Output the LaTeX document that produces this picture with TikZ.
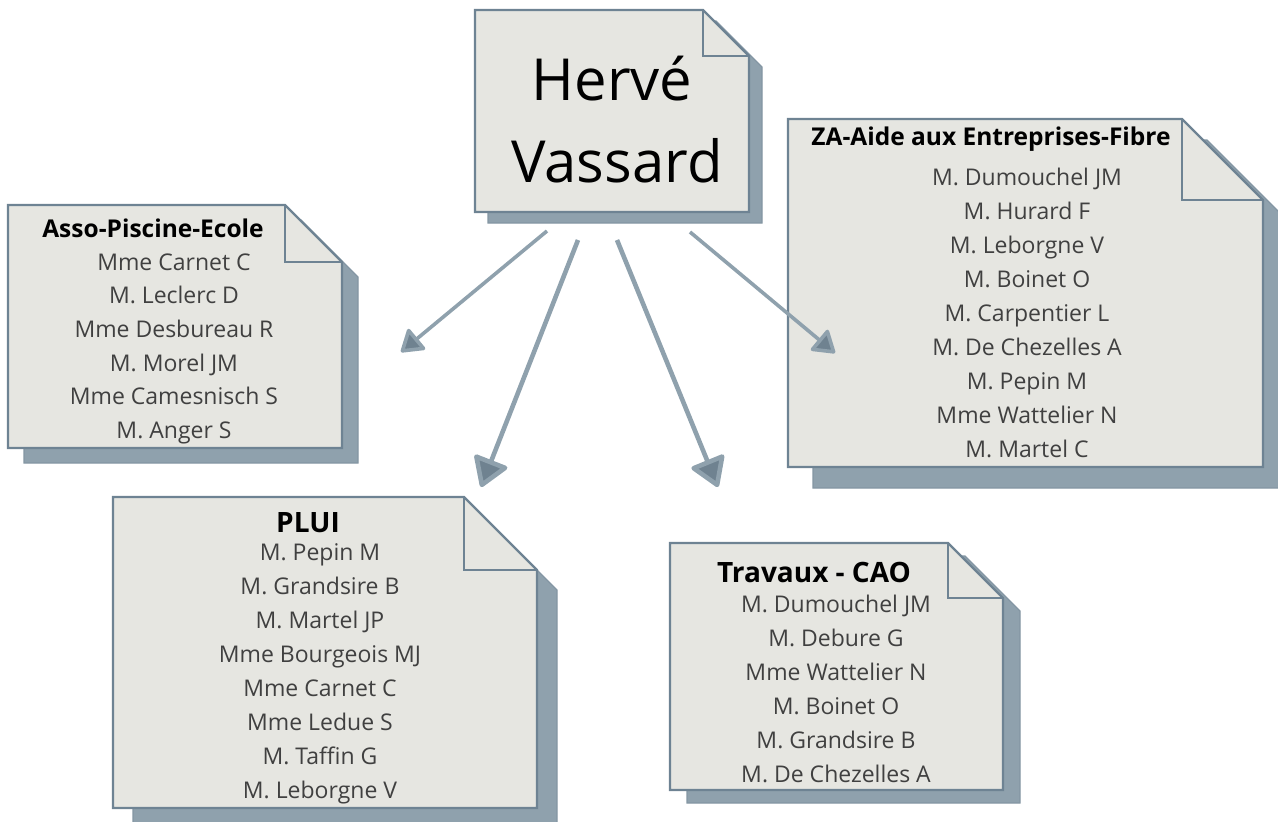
\documentclass[tikz,border=0pt]{standalone}
\usepackage{fontspec}
\setmainfont{Open Sans}
\usetikzlibrary{arrows.meta,calc}
\definecolor{notefill}{HTML}{E6E6E1}
\definecolor{borderc}{HTML}{6E8393}
\definecolor{shadowc}{HTML}{8FA1AD}
\definecolor{arrowc}{HTML}{8FA1AD}
\definecolor{tipc}{HTML}{6F8290}
\definecolor{bodyc}{HTML}{404040}
% name x1 y1 x2 y2 fold dx dy
\newcommand\notebox[8]{%
  \filldraw[fill=shadowc, draw=borderc!85, line width=1.2]
    (#2+#7,#3+#8) -- (#4-#6+#7,#3+#8) -- (#4+#7,#3+#6+#8) -- (#4+#7,#5+#8) -- (#2+#7,#5+#8) -- cycle;
  \filldraw[fill=notefill, draw=borderc, line width=2.4, line join=miter]
    (#2,#3) -- (#4-#6,#3) -- (#4,#3+#6) -- (#4,#5) -- (#2,#5) -- cycle;
  \draw[borderc, line width=2.4] (#4-#6,#3) -- (#4-#6,#3+#6) -- (#4,#3+#6);
  \coordinate (#1) at ({(#2+#4)/2},{(#3+#5)/2});
}
\tikzset{
  title/.style={anchor=base, inner sep=0, font=\fontsize{24.5}{30}\selectfont\bfseries, text=black},
  bigtitle/.style={anchor=base, inner sep=0, font=\fontsize{28}{34}\selectfont\bfseries, text=black},
  body/.style={anchor=base, inner sep=0, font=\fontsize{23}{28}\selectfont, text=bodyc},
  big/.style={anchor=base, inner sep=0, font=\fontsize{58}{70}\selectfont, text=black},
  thinarrow/.style={draw=arrowc, line width=3.6, -{Triangle[length=23pt,width=29pt,round,fill=tipc]}},
  thickarrow/.style={draw=arrowc, line width=4.6, -{Triangle[length=31pt,width=38pt,round,fill=tipc]}},
}
\begin{document}
\begin{tikzpicture}[x=1pt,y=-1pt]
\useasboundingbox (0,0) rectangle (1278,822);
\begin{scope}
\clip (0,0) rectangle (1278,822);
% central note
\notebox{hv}{475}{10}{749}{212}{46}{13}{11}
\node[big] (herve) at (612,100) {Hervé};
\node[big] (vassard) at (617,182) {Vassard};

% Asso
\notebox{asso}{8}{205}{342}{448}{57}{16}{15}
\node[title] (assoT) at (153,237) {Asso-Piscine-Ecole};
\foreach \t [count=\i] in {Mme Carnet C, M. Leclerc D, Mme Desbureau R, M. Morel JM, Mme Camesnisch S, M. Anger S}
  \node[body] (asso\i) at (174,{270+33.7*(\i-1)}) {\t};

% ZA
\notebox{za}{788}{119}{1263}{467}{81}{25}{21}
\node[title] (zaT) at (991,145) {ZA-Aide aux Entreprises-Fibre};
\foreach \t [count=\i] in {M. Dumouchel JM, M. Hurard F, M. Leborgne V, M. Boinet O, M. Carpentier L, M. De Chezelles A, M. Pepin M, Mme Wattelier N, M. Martel C}
  \node[body] (za\i) at (1027,{185+34.1*(\i-1)}) {\t};

% PLUI
\notebox{plui}{113}{497}{537}{808}{73}{20}{20}
\node[bigtitle] (pluiT) at (308,532) {PLUI};
\foreach \t [count=\i] in {M. Pepin M, M. Grandsire B, M. Martel JP, Mme Bourgeois MJ, Mme Carnet C, Mme Ledue S, M. Taffin G, M. Leborgne V}
  \node[body] (plui\i) at (320,{560+34*(\i-1)}) {\t};

% Travaux
\notebox{trav}{670}{543}{1003}{790}{55}{17}{13}
\node[bigtitle] (travT) at (814,582) {Travaux - CAO};
\foreach \t [count=\i] in {M. Dumouchel JM, M. Debure G, Mme Wattelier N, M. Boinet O, M. Grandsire B, M. De Chezelles A}
  \node[body] (trav\i) at (836,{612+34*(\i-1)}) {\t};
\end{scope}

% arrows
\coordinate (s1) at (547,231);
\coordinate (e1) at (401,352);
\coordinate (s2) at (578,240);
\coordinate (e2) at (481,487);
\coordinate (s3) at (617,240);
\coordinate (e3) at (718,487);
\coordinate (s4) at (690,232);
\coordinate (e4) at (835,353);
\draw[thinarrow] (s1) -- (e1);
\draw[thickarrow] (s2) -- (e2);
\draw[thickarrow] (s3) -- (e3);
\draw[thinarrow] (s4) -- (e4);
\end{tikzpicture}
\end{document}
